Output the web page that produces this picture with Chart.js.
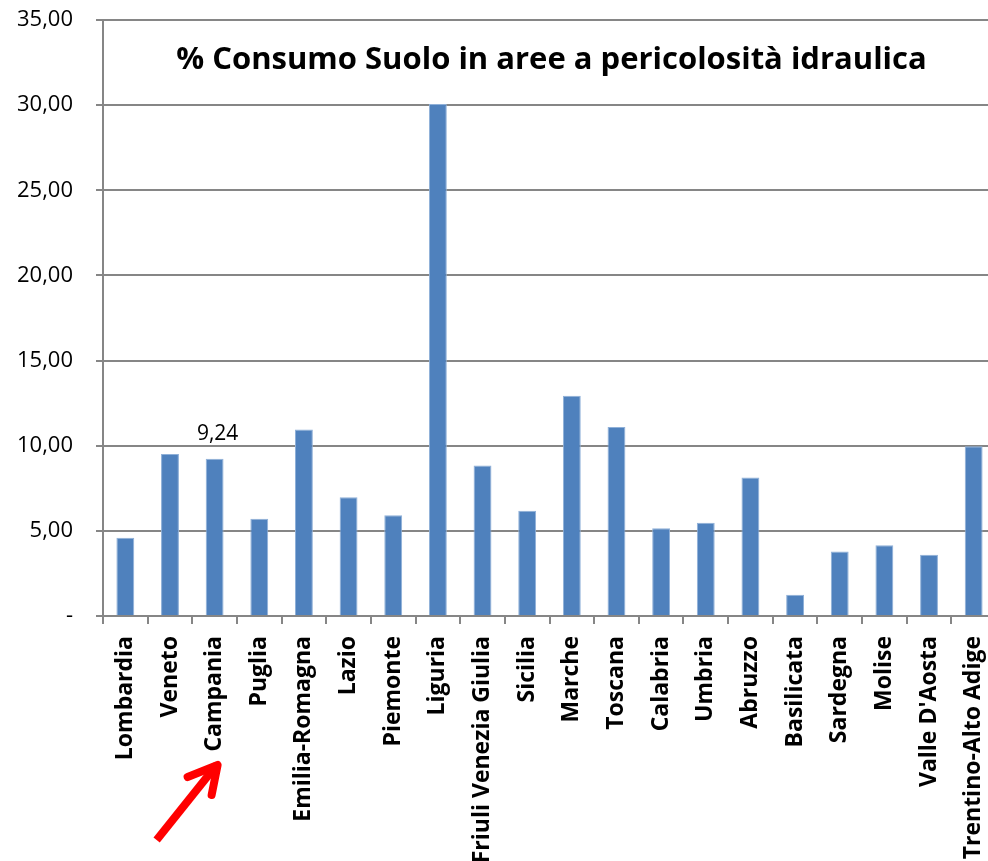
<!DOCTYPE html>
<html>
<head>
<meta charset="utf-8">
<script src="https://cdn.jsdelivr.net/npm/chart.js@4.4.1/dist/chart.umd.min.js"></script>
<style>
  html, body { margin: 0; padding: 0; background: #fff; }
  canvas { display: block; }
</style>
</head>
<body>
<canvas id="chart" width="988" height="861"></canvas>
<script>
// Regioni e % di consumo di suolo in aree a pericolosità idraulica
const regions = [
    'Lombardia', 'Veneto', 'Campania', 'Puglia', 'Emilia-Romagna', 'Lazio',
    'Piemonte', 'Liguria', 'Friuli Venezia Giulia', 'Sicilia', 'Marche',
    'Toscana', 'Calabria', 'Umbria', 'Abruzzo', 'Basilicata', 'Sardegna',
    'Molise', "Valle D'Aosta", 'Trentino-Alto Adige'
];
const values = [
    4.60, 9.52, 9.24, 5.71, 10.95, 6.98,
    5.92, 30.07, 8.84, 6.18, 12.94,
    11.10, 5.16, 5.47, 8.13, 1.25, 3.79,
    4.15, 3.60, 9.97
];
const yTicks = [0, 5, 10, 15, 20, 25, 30, 35];
const titleText = '% Consumo Suolo in aree a pericolosità idraulica';
const labelledIndex = 2; // Campania

const BAR_COLOR = '#4F81BD';
const AXIS_COLOR = '#868686';
const FONT = "'Open Sans', sans-serif";
const OVERFLOW_RIGHT = 8; // plot area runs a bit past the canvas edge

function fmt(v) {
    return v === 0 ? '-' : v.toFixed(2).replace('.', ',');
}

// stretch the x scale past the right edge, like the cropped original
const stretchPlugin = {
    id: 'stretchRight',
    afterLayout(chart) {
        const s = chart.scales.x;
        s.right += OVERFLOW_RIGHT;
        s.width += OVERFLOW_RIGHT;
        s.configure();
        chart.chartArea.right += OVERFLOW_RIGHT;
        chart.chartArea.width += OVERFLOW_RIGHT;
    }
};

// title drawn inside the plot area
const titlePlugin = {
    id: 'innerTitle',
    afterDraw(chart) {
        const { ctx, chartArea } = chart;
        ctx.save();
        ctx.font = "bold 31px " + FONT;
        ctx.fillStyle = '#000';
        ctx.textAlign = 'center';
        ctx.textBaseline = 'middle';
        ctx.fillText(titleText, (chartArea.left + chartArea.right) / 2 + 2, 60);
        ctx.restore();
    }
};

// value label over one bar + red arrow to its category label
const markPlugin = {
    id: 'campaniaMark',
    afterDraw(chart) {
        const { ctx } = chart;
        const bar = chart.getDatasetMeta(0).data[labelledIndex];
        ctx.save();
        ctx.font = "21px " + FONT;
        ctx.fillStyle = '#000';
        ctx.textAlign = 'center';
        ctx.textBaseline = 'bottom';
        ctx.fillText(fmt(values[labelledIndex]), bar.x + 3, bar.y - 14);

        const x = chart.scales.x.getPixelForValue(labelledIndex);
        ctx.strokeStyle = '#FF0000';
        ctx.lineWidth = 8;
        ctx.lineCap = 'butt';
        ctx.beginPath();
        ctx.moveTo(x - 58, 840);
        ctx.lineTo(x + 2, 765);
        ctx.stroke();
        ctx.lineCap = 'round';
        ctx.lineJoin = 'round';
        ctx.beginPath();
        ctx.moveTo(x - 27, 777);
        ctx.lineTo(x + 3, 765);
        ctx.lineTo(x - 3, 795);
        ctx.stroke();
        ctx.restore();
    }
};

new Chart(document.getElementById('chart').getContext('2d'), {
    type: 'bar',
    data: {
        labels: regions,
        datasets: [{
            data: values,
            backgroundColor: BAR_COLOR,
            borderColor: '#8fb0d8',
            borderWidth: 1,
            categoryPercentage: 1,
            barPercentage: 0.4
        }]
    },
    options: {
        responsive: false,
        animation: false,
        layout: { padding: { top: 20, right: 0, left: 0, bottom: 0 } },
        plugins: {
            legend: { display: false },
            tooltip: { enabled: false }
        },
        scales: {
            x: {
                grid: {
                    offset: true,
                    drawOnChartArea: false,
                    color: AXIS_COLOR,
                    lineWidth: 2,
                    tickLength: 8
                },
                border: { color: AXIS_COLOR, width: 2 },
                ticks: {
                    color: '#000',
                    font: { family: FONT, size: 23, weight: 'bold' },
                    minRotation: 90,
                    maxRotation: 90,
                    autoSkip: false,
                    padding: 12
                },
                afterFit(scale) {
                    scale.height = 245;
                    scale.paddingLeft = 0;
                    scale.paddingRight = 0;
                }
            },
            y: {
                min: 0,
                max: 35,
                afterBuildTicks(scale) {
                    scale.ticks = yTicks.map(v => ({ value: v }));
                },
                grid: {
                    color: AXIS_COLOR,
                    lineWidth: 2,
                    tickLength: 7
                },
                border: { color: AXIS_COLOR, width: 2 },
                ticks: {
                    color: '#000',
                    font: { family: FONT, size: 22 },
                    padding: 23,
                    callback: v => fmt(v)
                },
                afterFit(scale) {
                    scale.width = 103;
                    scale.paddingTop = 0;
                    scale.paddingBottom = 0;
                }
            }
        }
    },
    plugins: [stretchPlugin, titlePlugin, markPlugin]
});
</script>
</body>
</html>
